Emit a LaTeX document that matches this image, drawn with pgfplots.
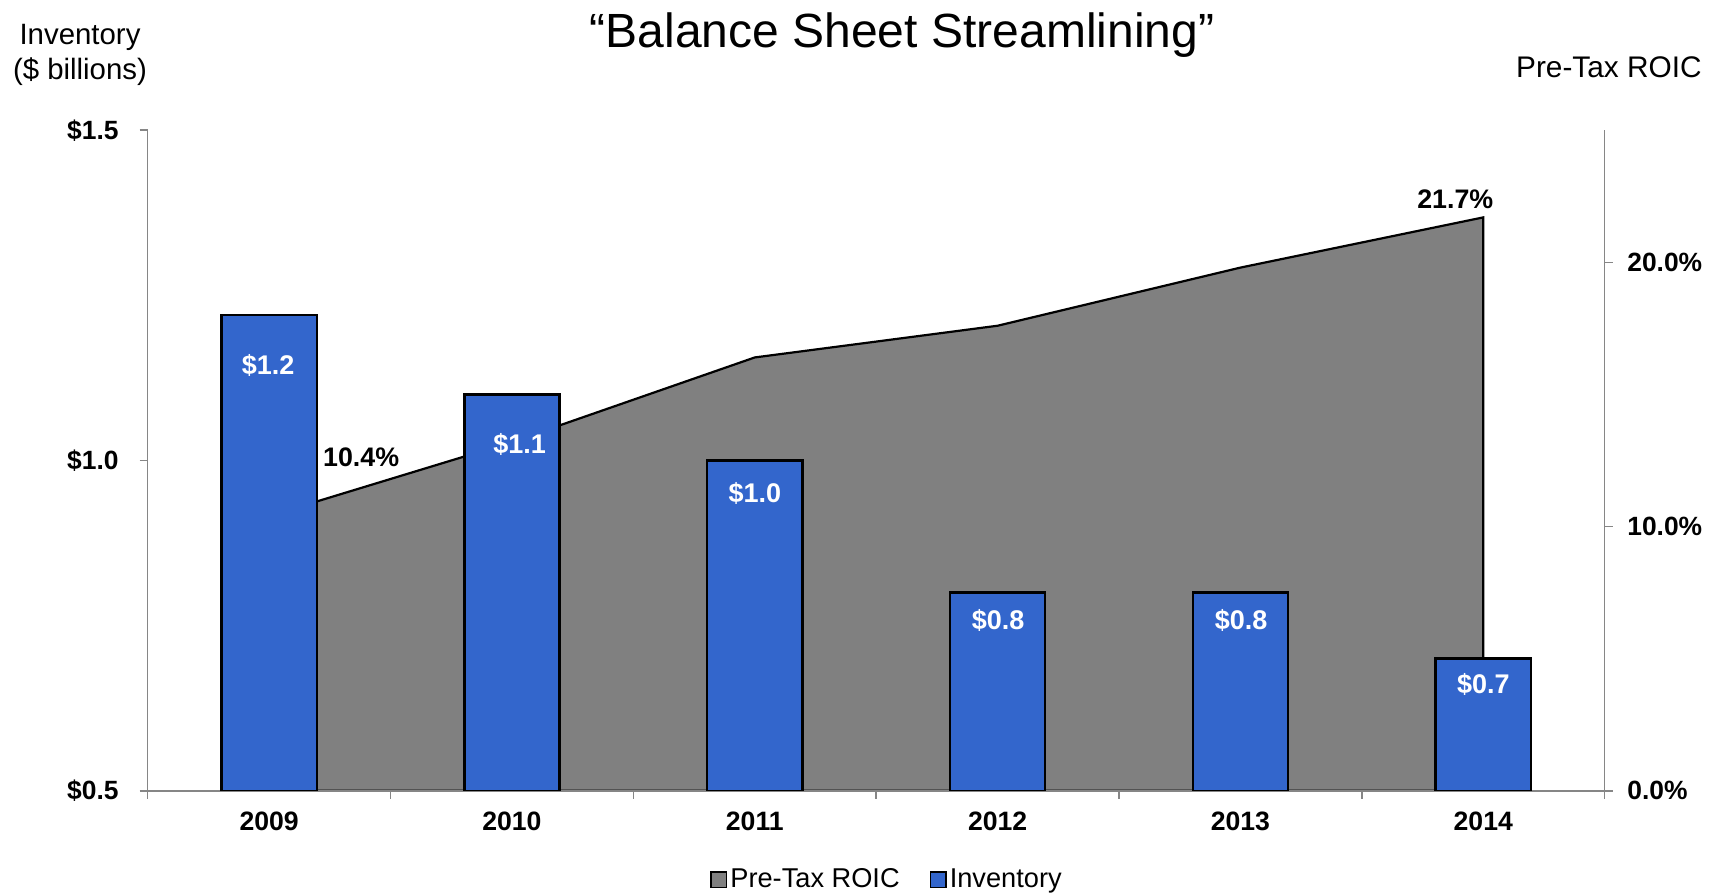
\documentclass[border=0pt]{standalone}
\usepackage{pgfplots}
\pgfplotsset{compat=1.18}
\usepackage{fontspec}
\setmainfont{Liberation Sans}
\definecolor{barblue}{HTML}{3366CC}
\definecolor{areagray}{HTML}{808080}
\definecolor{axisgray}{HTML}{868686}
\begin{document}
\begin{tikzpicture}
\path[use as bounding box] (0,0) rectangle (857.5pt,447pt);
\pgfplotsset{
  base/.style={
    scale only axis, width=728.5pt, height=330.3pt,
    at={(73.85pt,51.6pt)}, anchor=south west,
    xmin=-0.5, xmax=5.5,
    axis line style={axisgray, line width=0.75pt},
    tick style={axisgray, line width=0.75pt},
    tick align=outside, major tick length=4pt,
    /pgf/number format/assume math mode=true,
    ticklabel style={font=\bfseries\fontsize{13.2}{15}\selectfont, text=black},
  }
}
% secondary axis: Pre-Tax ROIC area
\begin{axis}[base,
  ymin=0, ymax=25,
  axis y line*=right, axis x line=none,
  ytick={0,10,20}, yticklabels={0.0\%,10.0\%,20.0\%},
  yticklabel style={xshift=3.8pt},
]
\addplot[fill=areagray, draw=black, line width=1.1pt] coordinates {
  (0,10.4) (1,13.2) (2,16.4) (3,17.6) (4,19.8) (5,21.7)
} \closedcycle;
\node[font=\bfseries\fontsize{13.4}{15}\selectfont] at (axis cs:0,10.4) [xshift=46pt, yshift=29.5pt] {10.4\%};
\node[font=\bfseries\fontsize{13.4}{15}\selectfont] at (axis cs:5,21.7) [xshift=-14pt, yshift=9pt] {21.7\%};
\end{axis}
% primary axis: Inventory bars
\begin{axis}[base,
  ymin=0.5, ymax=1.5,
  axis y line*=left, axis x line*=bottom,
  ytick={0.5,1,1.5}, yticklabels={\$0.5,\$1.0,\$1.5},
  yticklabel style={xshift=-7pt},
  xtick={-0.5,0.5,...,5.5}, xticklabels={},
  extra x ticks={0,1,2,3,4,5},
  extra x tick labels={2009,2010,2011,2012,2013,2014},
  extra x tick style={major tick length=0pt, xticklabel style={font=\bfseries\fontsize{13.3}{16}\selectfont, yshift=-7.2pt}},
  ybar,
]
\addplot[ybar, bar width=47.6pt, fill=barblue, draw=black, line width=1.2pt,
  nodes near coords, point meta=explicit symbolic,
  visualization depends on={\thisrow{dy} \as \labdy},
  visualization depends on={\thisrow{dx} \as \labdx},
  every node near coord/.append style={anchor=center, yshift=-\labdy pt, xshift=\labdx pt, text=white, font=\bfseries\fontsize{13.5}{16}\selectfont}]
table[x=x, y=y, meta=label] {
  x  y     label    dy    dx
  0  1.22  {\$1.2}  25.2  -0.5
  1  1.10  {\$1.1}  25.2  3.8
  2  1.00  {\$1.0}  16.4  0
  3  0.80  {\$0.8}  13.7  0.3
  4  0.80  {\$0.8}  13.7  0.3
  5  0.70  {\$0.7}  13.1  0
};
\end{axis}
% titles
\node[font=\fontsize{24}{29}\selectfont] at (451pt,429.5pt) {“Balance Sheet Streamlining”};
\node[font=\fontsize{14.7}{17.5}\selectfont, align=center] at (40pt,419.6pt) {Inventory\\(\$ billions)};
\node[font=\fontsize{14.9}{17}\selectfont, anchor=east, inner sep=0pt] at (851pt,413.6pt) {Pre-Tax ROIC};
% legend
\draw[black, line width=0.6pt, fill=areagray] (355.5pt,3.4pt) rectangle ++(7.6pt,7.6pt);
\node[font=\fontsize{13.6}{16}\selectfont, anchor=base west, inner sep=0pt] at (365pt,3.3pt) {Pre-Tax ROIC};
\draw[black, line width=0.6pt, fill=barblue] (465.4pt,3.4pt) rectangle ++(7.6pt,7.6pt);
\node[font=\fontsize{13.6}{16}\selectfont, anchor=base west, inner sep=0pt] at (474.7pt,3.3pt) {Inventory};
\end{tikzpicture}
\end{document}
